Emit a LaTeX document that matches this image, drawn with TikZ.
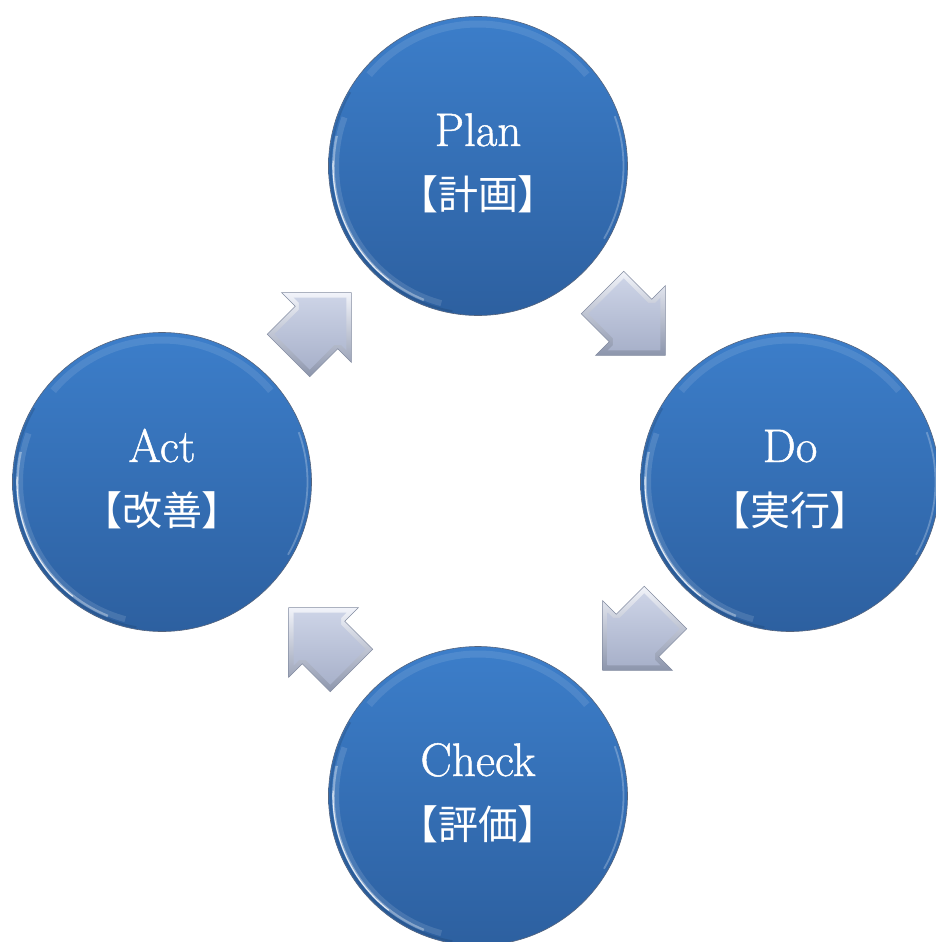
\documentclass[tikz,border=0pt]{standalone}
\usepackage{fontspec}
\newfontfamily\cjkfont[RawFeature=+palt]{Noto Sans CJK JP}
\newfontfamily\enfont[FakeBold=1]{Latin Modern Roman}
\usetikzlibrary{calc}
\definecolor{circtop}{RGB}{60,126,202}
\definecolor{circbot}{RGB}{45,96,160}
\definecolor{circedge}{RGB}{85,100,125}
\definecolor{arrlight}{RGB}{242,244,250}
\definecolor{arrdark}{RGB}{140,149,172}
\definecolor{facetop}{RGB}{204,211,230}
\definecolor{facebot}{RGB}{168,177,202}
\definecolor{arredge}{RGB}{130,139,160}
\begin{document}
\begin{tikzpicture}[x=1pt,y=-1pt,
  phase/.style={circle, minimum size=299pt, inner sep=0pt, top color=circtop, bottom color=circbot, draw=circedge, line width=0.6pt},
  entext/.style={text=white, font=\enfont\fontsize{47}{56}\selectfont, anchor=base, inner sep=0pt},
  jatext/.style={text=white, font=\cjkfont\fontsize{40}{48}\selectfont, anchor=base, inner sep=0pt},
  arrouter/.style={top color=arrlight, bottom color=arrdark, draw=arredge, line width=0.5pt},
  arrface/.style={top color=facetop, bottom color=facebot},
]
\useasboundingbox (0,0) rectangle (936,942);

% phases
\node[phase] (plan) at (478,166) {};
\node[phase] (do) at (790,482) {};
\node[phase] (check) at (478,796) {};
\node[phase] (act) at (162,482) {};

% rim highlights
\foreach \n in {plan,do,check,act}{
  \draw[circbot!60!black, opacity=0.25, line width=2pt] ($(\n)+(100:147.5)$) arc[start angle=100, end angle=210, radius=147.5];
  \draw[white, opacity=0.12, line width=6pt] ($(\n)+(105:142)$) arc[start angle=105, end angle=200, radius=142];
  \draw[white, opacity=0.35, line width=2.5pt] ($(\n)+(112:144.5)$) arc[start angle=112, end angle=192, radius=144.5];
  \draw[white, opacity=0.8, line width=1.1pt, line cap=round] ($(\n)+(128:145)$) arc[start angle=128, end angle=182, radius=145];
  \draw[white, opacity=0.1, line width=7pt] ($(\n)+(220:142)$) arc[start angle=220, end angle=320, radius=142];
  \draw[white, opacity=0.25, line width=1.8pt] ($(\n)+(-20:145.5)$) arc[start angle=-20, end angle=30, radius=145.5];
}

% texts
\node[entext] (plan-en) at ($(plan)+(0,-20)$) {Plan};
\node[jatext] (plan-ja) at ($(plan)+(0,43)$) {【計画】};
\node[entext] (do-en) at ($(do)+(0,-20)$) {Do};
\node[jatext] (do-ja) at ($(do)+(0,43)$) {【実行】};
\node[entext] (check-en) at ($(check)+(0,-20)$) {Check};
\node[jatext] (check-ja) at ($(check)+(0,43)$) {【評価】};
\node[entext] (act-en) at ($(act)+(0,-20)$) {Act};
\node[jatext] (act-ja) at ($(act)+(0,43)$) {【改善】};

% block arrows
\foreach \a/\b/\mx/\my in {plan/do/1/1, do/check/-1/1, check/act/-1/-1, act/plan/1/-1}{
  \begin{scope}[shift={($(\a)!0.5!(\b)$)}]
    \shade[arrouter]
      ({\mx*(-10.25)},{\my*(-52.68)}) -- ({\mx*(17.68)},{\my*(-24.75)}) --
      ({\mx*(31.47)},{\my*(-38.54)}) -- ({\mx*(31.47)},{\my*(31.47)}) --
      ({\mx*(-38.54)},{\my*(31.47)}) -- ({\mx*(-24.75)},{\my*(17.68)}) --
      ({\mx*(-52.68)},{\my*(-10.25)}) -- cycle;
    \shade[arrface]
      ({\mx*(-10.25)},{\my*(-45.61)}) -- ({\mx*(14.14)},{\my*(-21.21)}) --
      ({\mx*(21.21)},{\my*(-21.21)}) -- ({\mx*(26.47)},{\my*(-26.47)}) --
      ({\mx*(26.47)},{\my*(26.47)}) -- ({\mx*(-26.47)},{\my*(26.47)}) --
      ({\mx*(-21.21)},{\my*(21.21)}) -- ({\mx*(-21.21)},{\my*(14.14)}) --
      ({\mx*(-45.61)},{\my*(-10.25)}) -- cycle;
  \end{scope}
}
\end{tikzpicture}
\end{document}
